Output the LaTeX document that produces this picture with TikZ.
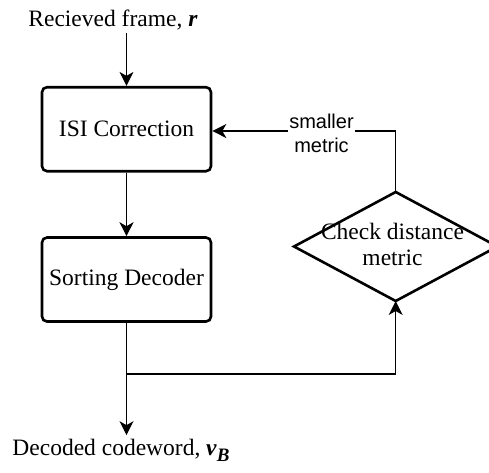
\documentclass[tikz,border=0pt]{standalone}
\usepackage{fontspec}
\setmainfont{Liberation Serif}
\newfontfamily\labelsans{Liberation Sans}
\usetikzlibrary{arrows.meta}

\begin{document}
\begin{tikzpicture}[x=1pt,y=-1pt,
  every node/.style={font=\fontsize{23.5}{26}\selectfont},
  blockbox/.style={draw, line width=2.6pt, rounded corners=5pt,
    minimum width=169pt, minimum height=84pt, inner sep=0pt},
  flow/.style={line width=1.3pt, -{Stealth[length=14pt,width=14pt,inset=4pt]}},
  tag/.style={font=\labelsans\fontsize{20}{24}\selectfont, fill=white,
    align=center, inner sep=1pt}]
  \useasboundingbox (0,0) rectangle (489,472);

  % processing blocks
  \node[blockbox] (isi) at (126.5,129.2) {ISI Correction};
  \node[blockbox] (sd)  at (126.5,279.5) {Sorting Decoder};

  % input and output texts
  \node[anchor=base] (rx)  at (113,26)  {Recieved frame, \textbf{\textit{r}}};
  \node[anchor=base] (dec) at (121,455) {Decoded codeword, \textbf{\textit{v}}\raisebox{-0.28em}{\fontsize{19}{19}\selectfont\bfseries\itshape B}};

  % decision diamond
  \coordinate (dt) at (395.7,192);
  \coordinate (db) at (395.7,301);
  \coordinate (dl) at (294,246.5);
  \coordinate (dr) at (497.4,246.5);
  \draw[line width=2.6pt, line join=miter] (dl) -- (dt) -- (dr) -- (db) -- cycle;
  \node[align=center, inner sep=0pt] (chk) at (392.5,244) {Check distance\\metric};

  % branching point and feedback corner
  \coordinate (j)  at (126.5,374);
  \coordinate (fb) at (395.7,131);

  % connectors
  \draw[flow] (isi.north |- rx.south) -- (isi.north);
  \draw[flow] (isi.south) -- (sd.north);
  \draw[flow] (sd.south) -- (sd.south |- dec.north);
  \draw[flow] (j) -| (db);
  \draw[flow] (dt) -- (fb) -- (isi.east |- fb);
  \node[tag] (lbl) at (321.5,133.5) {smaller\\metric};
\end{tikzpicture}
\end{document}
